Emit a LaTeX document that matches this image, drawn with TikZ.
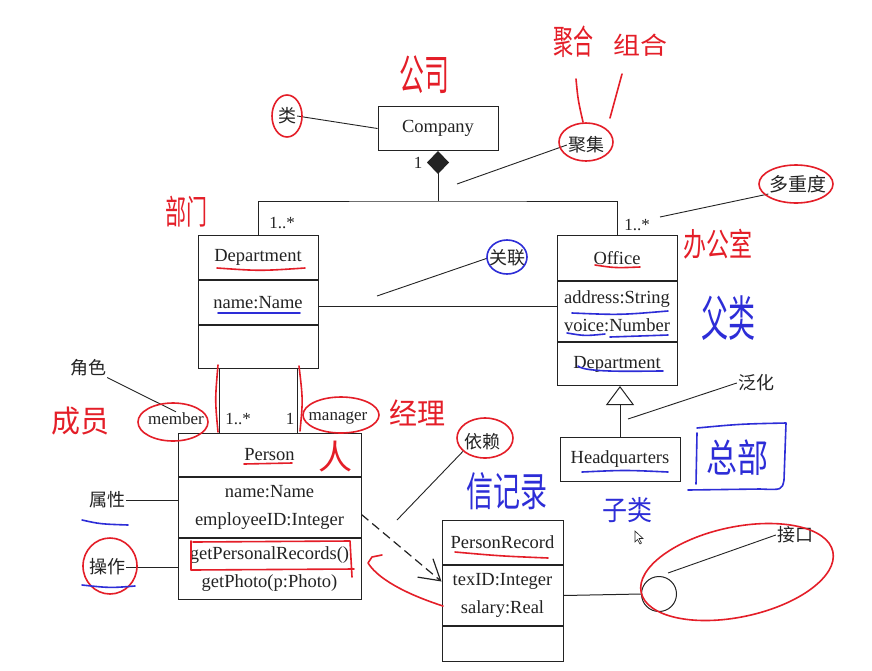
\documentclass[tikz,border=0pt]{standalone}
\usepackage{graphicx}
\usepackage{fontspec}
\setmainfont{Liberation Serif}
\newfontfamily\cjk{Noto Sans CJK SC}
\usetikzlibrary{arrows.meta,calc}
\definecolor{penred}{RGB}{228,30,40}
\definecolor{penblue}{RGB}{45,45,215}
\definecolor{ink}{RGB}{35,35,35}

% handwritten-looking text: font size, vertical stretch
\newcommand{\handtext}[3]{\scalebox{1}[#2]{\fontsize{#1}{#1}\selectfont #3}}

\begin{document}
\begin{tikzpicture}[x=1pt,y=-1pt,
  line/.style={draw=ink,line width=1pt},
  comp/.style={line, rectangle, inner sep=0pt, minimum width=120pt,
    font=\fontsize{18.5}{28}\selectfont, align=center, text=ink},
  note/.style={font=\cjk\fontsize{18}{18}\selectfont, inner sep=1pt, text=ink},
  mult/.style={font=\fontsize{17}{17}\selectfont, inner sep=1pt, text=ink},
  leader/.style={draw=ink, line width=0.9pt},
  redpen/.style={draw=penred, line width=1.6pt, line cap=round, line join=round},
  bluepen/.style={draw=penblue, line width=1.6pt, line cap=round, line join=round},
  redhand/.style={text=penred, font=\cjk, inner sep=0pt},
  bluehand/.style={text=penblue, font=\cjk, inner sep=0pt},
]
\useasboundingbox[fill=white] (0,0) rectangle (872,670);

% ---------- classes ----------
\node[comp, minimum height=44pt, anchor=north] (company) at (438,106) {Company};

\node[comp, minimum height=44pt, anchor=north] (dept1) at (258,235) {Department};
\node[comp, minimum height=44pt, anchor=north] (dept2) at (dept1.south) {name:Name};
\node[comp, minimum height=43pt, anchor=north] (dept3) at (dept2.south) {};

\node[comp, minimum height=45pt, anchor=north] (office1) at (617,235) {Office};
\node[comp, minimum height=60pt, anchor=north] (office2) at (office1.south) {address:String\\voice:Number};
\node[comp, minimum height=43pt, anchor=north] (office3) at (office2.south) {Department};

\node[comp, minimum height=44pt, anchor=north] (hq) at (620,437) {Headquarters};

\node[comp, minimum width=183pt, minimum height=43pt, anchor=north] (person1) at (269.5,433) {Person};
\node[comp, minimum width=183pt, minimum height=60pt, anchor=north] (person2) at (person1.south) {name:Name\\employeeID:Integer};
\node[comp, minimum width=183pt, minimum height=61pt, anchor=north] (person3) at (person2.south) {getPersonalRecords()\\getPhoto(p:Photo)};

\node[comp, minimum width=121pt, minimum height=44pt, anchor=north] (prec1) at (502.5,520) {PersonRecord};
\node[comp, minimum width=121pt, minimum height=60pt, anchor=north] (prec2) at (prec1.south) {texID:Integer\\salary:Real};
\node[comp, minimum width=121pt, minimum height=35pt, anchor=north] (prec3) at (prec2.south) {};

\node[line, circle, minimum size=35pt, inner sep=0pt] (iface) at (659,594) {};

% ---------- relationships ----------
\coordinate (junction) at ($(company.south)+(0,50)$);
\draw[line, {Diamond[length=23pt,width=22pt]}-] (company.south) -- (junction);
\draw[line] (dept1.north) |- (junction) -| (office1.north);

\coordinate (assocL) at ($(dept2.east)+(0,4)$);
\draw[line] (assocL) -- (assocL -| office2.west);

\coordinate (memTop) at ([xshift=-39pt]dept3.south);
\coordinate (mgrTop) at ([xshift=39pt]dept3.south);
\draw[line] (memTop) -- (memTop |- person1.north);
\draw[line] (mgrTop) -- (mgrTop |- person1.north);

\draw[line, -{Triangle[open, length=19pt, width=28pt, fill=white]}] (hq.north) -- (hq.north |- office3.south);

\coordinate (depS) at ($(person2.east)+(0,7)$);
\coordinate (depE) at ($(prec2.west)+(0,-14)$);
\draw[line, line width=1.2pt, dash pattern=on 9pt off 5pt, -{Straight Barb[length=20pt,width=24pt]}] (depS) -- (depE);

\draw[line] (prec2.east) -- (iface.west);

% ---------- multiplicities and roles ----------
\node[mult] (mComp) at (418,163) {1};
\node[mult] (mDept) at (282,223) {1..*};
\node[mult] (mOff) at (637,225) {1..*};
\node[mult] (rmember) at (176,419) {member};
\node[mult] (mMem) at (238,419) {1..*};
\node[mult] (mMgr) at (290,419) {1};
\node[mult] (rmanager) at (338,418) {manager};

% ---------- notes ----------
\node[note] (nClass) at (287,116) {类};
\draw[leader] (nClass.east) -- (company.west);

\node[note] (nAgg) at (586,145) {聚集};
\coordinate (aggPt) at (457,184);
\draw[leader] (nAgg.west) -- (aggPt);

\node[note, font=\cjk\fontsize{19}{19}\selectfont] (nMult) at (798,184) {多重度};
\coordinate (multPt) at (660,217);
\draw[leader] (nMult.south west) -- (multPt);

\node[note] (nAssoc) at (507,258) {关联};
\coordinate (assocPt) at (377,296);
\draw[leader] (nAssoc.west) -- (assocPt);

\node[note] (nGen) at (756,383) {泛化};
\coordinate (genPt) at (628,419);
\draw[leader] (nGen.west) -- (genPt);

\node[note] (nRole) at (88,368) {角色};
\draw[leader] (nRole.south east) -- (rmember.north);

\node[note] (nAttr) at (107,500) {属性};
\draw[leader] (nAttr.east) -- (nAttr.east -| person2.west);

\node[note] (nOper) at (107,567) {操作};
\draw[leader] (nOper.east) -- (nOper.east -| person3.west);

\node[note] (nDep) at (482,442) {依赖};
\coordinate (depPt) at (397,520);
\draw[leader] (nDep.south west) -- (depPt);

\node[note] (nIface) at (795,535) {接口};
\coordinate (ifacePt) at (668,573);
\draw[leader] (nIface.west) -- (ifacePt);

% ---------- pen annotations: text ----------
\node[redhand] (hCompany) at (424,75) {\handtext{25}{1.7}{公司}};
\node[redhand] (hAgg) at (573,42) {\handtext{20}{1.7}{聚合}};
\node[redhand] (hComp) at (640,45) {\handtext{27}{0.9}{组合}};
\node[redhand] (hDept) at (186,212) {\handtext{21}{1.6}{部门}};
\node[redhand] (hOffice) at (718,244) {\handtext{23}{1.4}{办公室}};
\node[bluehand] (hParent) at (728,318) {\handtext{27}{1.8}{父类}};
\node[bluehand] (hHQ) at (737,458) {\handtext{31}{1.25}{总部}};
\node[bluehand] (hChild) at (627,510) {\handtext{25}{1.1}{子类}};
\node[bluehand] (hRecord) at (507,491) {\handtext{27}{1.5}{信记录}};
\node[redhand] (hPerson) at (335,457) {\handtext{34}{1}{人}};
\node[redhand] (hMgr) at (417,413) {\handtext{28}{1.05}{经理}};
\node[redhand] (hMem) at (80,421) {\handtext{29}{1.05}{成员}};

% ---------- pen annotations: strokes ----------
\draw[redpen] (287,116) ellipse [x radius=15pt, y radius=21pt];
\draw[redpen] (586,142) ellipse [x radius=27pt, y radius=19pt];
\draw[redpen] (796,184) ellipse [x radius=37pt, y radius=19pt];
\draw[bluepen] (507,257) ellipse [x radius=20pt, y radius=17pt];
\draw[redpen] (173,422) ellipse [x radius=35pt, y radius=19pt];
\draw[redpen] (341,415) ellipse [x radius=38pt, y radius=18pt];
\draw[redpen] (485,438) ellipse [x radius=28pt, y radius=20pt];
\draw[redpen] (110,566) ellipse [x radius=27pt, y radius=28pt];
\draw[redpen, shift={(737,572)}, rotate=12] (0,0) ellipse [x radius=98pt, y radius=45pt];

\draw[redpen] (576,79) .. controls (578,100) .. (583,122);
\draw[redpen] (622,74) -- (610,118);

\draw[redpen] (218,365) .. controls (215,400) .. (218,432);
\draw[redpen] (299,366) .. controls (303,400) .. (300,431);

\draw[redpen] (217,268) .. controls (260,271) .. (305,268);
\draw[bluepen] (218,313) -- (300,313);
\draw[redpen] (595,265) .. controls (615,268) .. (640,267);
\draw[bluepen] (572,313) .. controls (620,315) .. (668,311);
\draw[bluepen] (567,333) .. controls (585,336) .. (605,334);
\draw[bluepen] (610,337) .. controls (640,336) .. (668,335);
\draw[bluepen] (578,366) .. controls (585,373) and (640,371) .. (663,371);
\draw[bluepen] (582,472) .. controls (625,470) .. (668,472);
\draw[redpen] (244,464) -- (292,463);
\draw[bluepen] (82,520) .. controls (100,524) .. (128,525);
\draw[bluepen] (82,585) .. controls (110,588) .. (135,586);
\draw[redpen] (455,552) .. controls (500,556) .. (548,558);

\draw[redpen] (193,542) -- (350,541) -- (352,577);
\draw[redpen] (191,541) -- (191,570) -- (354,569);

\draw[bluepen] (697,433) -- (696,484);
\draw[bluepen] (697,428) .. controls (740,424) .. (786,423) -- (784,480)
  .. controls (782,490) .. (760,489) -- (688,490);

\draw[redpen] (443,606) .. controls (415,597) and (380,582) .. (368,563) -- (372,557) -- (382,555);

% mouse pointer
\draw[ink, line width=0.6pt, fill=white] (635,531) -- (635,542) -- (637.5,539.5) -- (640,544)
  -- (641.5,543) -- (639,538.5) -- (643,538.5) -- cycle;
\end{tikzpicture}
\end{document}
